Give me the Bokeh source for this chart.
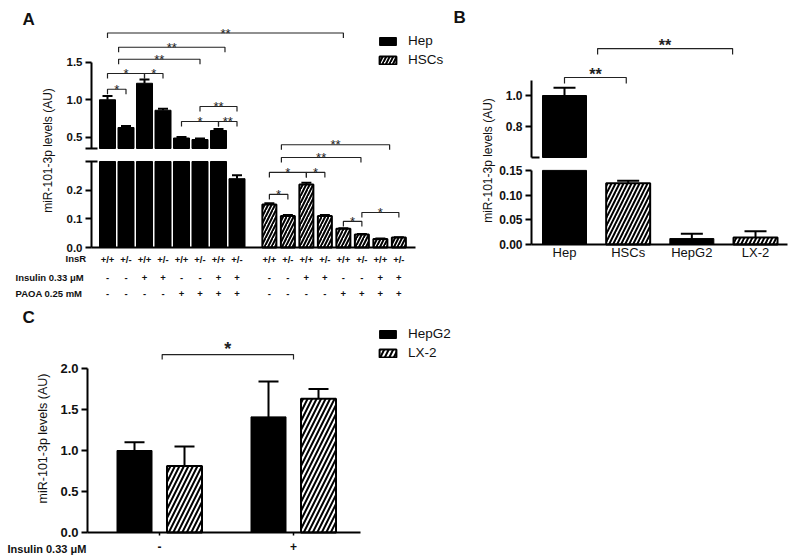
import math
from bokeh.plotting import figure
from bokeh.layouts import column, row
from bokeh.models import (Range1d, FixedTicker, Label, LabelSet, ColumnDataSource,
                          Legend, LegendItem, LinearAxis, PrintfTickFormatter)
from bokeh.embed import file_html
from bokeh.resources import INLINE
from bokeh.core.properties import value

FONT = "Liberation Sans"

# ---------------- Panel A data ----------------
a_insr = ["+/+", "+/-", "+/+", "+/-", "+/+", "+/-", "+/+", "+/-"]
a_insulin = ["-", "-", "+", "+", "-", "-", "+", "+"]
a_paoa = ["-", "-", "-", "-", "+", "+", "+", "+"]
a_hep = [1.00, 0.63, 1.22, 0.86, 0.49, 0.47, 0.59, 0.24]
a_hep_err = [0.05, 0.02, 0.05, 0.02, 0.012, 0.012, 0.02, 0.012]
a_hsc = [0.150, 0.110, 0.220, 0.110, 0.065, 0.045, 0.030, 0.035]
a_hsc_err = [0.004, 0.003, 0.006, 0.003, 0.002, 0.002, 0.001, 0.001]
a_row_titles = ["InsR", "Insulin  0.33 \u03bcM", "PAOA  0.25 mM"]
a_lower_ticks = [0.0, 0.1, 0.2]
a_upper_ticks = [0.5, 1.0, 1.5]
# significance brackets: (from x, to x, level, mark)
a_sig_upper = [
    (1.0, 13.75, 1.89, "**"),
    (1.6, 7.35, 1.70, "**"),
    (1.6, 6.0, 1.54, "**"),
    (1.0, 3.0, 1.35, "*"),
    (3.0, 4.0, 1.35, "*"),
    (1.0, 2.0, 1.14, "*"),
    (6.0, 8.0, 0.91, "**"),
    (5.0, 7.0, 0.71, "*"),
    (7.0, 8.0, 0.71, "**"),
    (10.4, 16.25, 0.40, "**"),
]
a_sig_lower = [
    (10.4, 14.7, 0.314, "**"),
    (9.75, 11.75, 0.262, "*"),
    (11.75, 12.75, 0.262, "*"),
    (9.75, 10.75, 0.185, "*"),
    (14.75, 16.75, 0.122, "*"),
    (13.75, 14.75, 0.091, "*"),
]

# ---------------- Panel B data ----------------
b_cats = ["Hep", "HSCs", "HepG2", "LX-2"]
b_kind = ["hep", "hsc", "hep", "hsc"]
b_vals = [1.00, 0.124, 0.012, 0.014]
b_err = [0.05, 0.005, 0.010, 0.013]
b_lower_ticks = [0.0, 0.05, 0.10, 0.15]
b_upper_ticks = [0.8, 1.0]
b_sig = [(0.0, 0.97, 1.116, "**"), (0.52, 2.64, 1.303, "**")]

# ---------------- Panel C data ----------------
c_groups = ["-", "+"]
c_hepg2 = [1.00, 1.41]
c_hepg2_err = [0.10, 0.43]
c_lx2 = [0.81, 1.63]
c_lx2_err = [0.24, 0.12]
c_ticks = [0.0, 0.5, 1.0, 1.5, 2.0]
c_sig = [(0.02, 1.0, 2.17, "*")]


class Box:
    """A figure whose frame fills it; positions given in page pixels."""
    def __init__(self, left, top, w, h):
        self.left, self.top, self.w, self.h = left, top, w, h

    def sx(self, X):
        return X - self.left

    def sy(self, Y):
        return self.top + self.h - Y

    def xr(self, X_anchor, v_anchor, ppu):
        start = v_anchor - (X_anchor - self.left) / ppu
        return Range1d(start, start + self.w / ppu)

    def yr(self, Y_anchor, v_anchor, ppu):
        start = v_anchor - (self.top + self.h - Y_anchor) / ppu
        return Range1d(start, start + self.h / ppu)


def new_fig(box, x_range, y_range):
    p = figure(width=box.w, height=box.h, x_range=x_range, y_range=y_range,
               output_backend="svg", toolbar_location=None, title=None,
               x_axis_location=None, y_axis_location=None,
               min_border_left=0, min_border_right=0, min_border_top=0, min_border_bottom=0)
    p.grid.visible = False
    p.outline_line_color = None
    p.background_fill_color = "white"
    p.border_fill_color = "white"
    return p


def add_y(p, at, ticks, bounds, size, fmt, range_name="default", minor=None, minor_in=6, minor_out=6):
    ax = LinearAxis(fixed_location=at, y_range_name=range_name)
    ax.ticker = FixedTicker(ticks=ticks, minor_ticks=minor or [])
    ax.formatter = PrintfTickFormatter(format=fmt)
    ax.bounds = bounds
    ax.axis_line_width = 2
    ax.axis_line_color = "black"
    ax.major_tick_line_width = 2
    ax.major_tick_in = 0
    ax.major_tick_out = 6
    ax.minor_tick_line_width = 2
    ax.minor_tick_in = minor_in
    ax.minor_tick_out = minor_out
    ax.major_label_text_font = FONT
    ax.major_label_text_font_style = "bold"
    ax.major_label_text_font_size = size
    ax.major_label_text_color = "#111111"
    ax.major_label_standoff = 3
    p.add_layout(ax, "left")


def add_x(p, at, ticks, labels, bounds, size, bold, standoff, tick_out=0):
    ax = LinearAxis(fixed_location=at)
    ax.ticker = FixedTicker(ticks=ticks)
    ax.major_label_overrides = {t: l for t, l in zip(ticks, labels)}
    ax.bounds = bounds
    ax.axis_line_width = 2
    ax.axis_line_color = "black"
    ax.major_tick_in = 0
    ax.major_tick_out = tick_out
    ax.major_tick_line_width = 1.5
    ax.minor_tick_in = 0
    ax.minor_tick_out = 0
    ax.major_label_text_font = FONT
    ax.major_label_text_font_style = "bold" if bold else "normal"
    ax.major_label_text_font_size = size
    ax.major_label_text_color = "#111111"
    ax.major_label_standoff = standoff
    p.add_layout(ax, "below")


def error_bars(p, xs, vals, errs, cap_half, range_name="default"):
    if not xs:
        return
    tops = [v + e for v, e in zip(vals, errs)]
    p.segment(x0=xs, y0=vals, x1=xs, y1=tops, line_color="black", line_width=2,
              y_range_name=range_name)
    p.segment(x0=[x - cap_half for x in xs], x1=[x + cap_half for x in xs], y0=tops, y1=tops,
              line_color="black", line_width=2, y_range_name=range_name)


def brackets(p, sigs, tick, lift, size, bold, range_name="default"):
    xs = [[a, a, b, b] for a, b, y, t in sigs]
    ys = [[y - tick, y, y, y - tick] for a, b, y, t in sigs]
    p.multi_line(xs=xs, ys=ys, line_color="#222222", line_width=1.2, y_range_name=range_name)
    p.text(x=[(a + b) / 2 for a, b, y, t in sigs], y=[y + lift for a, b, y, t in sigs],
           text=[t for a, b, y, t in sigs], text_font=value(FONT), text_font_size=size,
           text_font_style="bold" if bold else "normal", text_color="#222222",
           text_align="center", text_baseline="middle", y_range_name=range_name)


def text_label(p, box, X, Y, text, size, bold=False, align="left", baseline="middle", angle=0.0):
    p.add_layout(Label(x=box.sx(X), y=box.sy(Y), x_units="screen", y_units="screen", text=text,
                       text_font=FONT, text_font_size=size,
                       text_font_style="bold" if bold else "normal",
                       text_color="#111111", text_align=align, text_baseline=baseline,
                       angle=angle))


def legend(p, box, items, X, Y_bottom):
    lg = Legend(items=items, location=(box.sx(X), box.sy(Y_bottom)), orientation="vertical",
                border_line_color=None, background_fill_alpha=0, padding=0, margin=0, spacing=1,
                glyph_width=21, glyph_height=10, label_height=18, label_standoff=10,
                label_text_font=FONT, label_text_font_size="13.5px", label_text_color="#111111")
    p.add_layout(lg)


HATCH = dict(fill_color="white", line_color="black", line_width=2,
             hatch_pattern="/", hatch_color="black", hatch_weight=2)

# ================= Panel A =================
A = Box(0, 0, 448, 305)
A_SLOT = 18.5            # px per bar slot
A_LOW_PX = 286.7         # px per unit, lower segment
A_UP_PX = 75.0           # px per unit, upper segment
A_BREAK_LO, A_BREAK_HI, A_UP_TOP = 0.3, 0.35, 1.5
a_x_hep = [1 + i for i in range(8)]
a_x_hsc = [9.75 + i for i in range(8)]
pa = new_fig(A, A.xr(107, 1, A_SLOT), A.yr(247, 0.0, A_LOW_PX))
pa.extra_y_ranges = {"upper": A.yr(148, A_BREAK_HI, A_UP_PX)}
a_axis_x = 1 + (91 - 107) / A_SLOT
BW_A = 16 / A_SLOT

r_hep = pa.vbar(x=a_x_hep, bottom=0, top=[min(v, A_BREAK_LO) for v in a_hep], width=BW_A,
                fill_color="black", line_color="black", line_width=1)
up_idx = [i for i, v in enumerate(a_hep) if v > A_BREAK_HI]
pa.vbar(x=[a_x_hep[i] for i in up_idx], bottom=A_BREAK_HI, top=[a_hep[i] for i in up_idx],
        width=BW_A, fill_color="black", line_color="black", line_width=1, y_range_name="upper")
r_hsc = pa.vbar(x=a_x_hsc, bottom=0, top=[min(v, A_BREAK_LO) for v in a_hsc],
                width=BW_A - 2 / A_SLOT, hatch_scale=7, **HATCH)

cap_a = 5 / A_SLOT
error_bars(pa, [a_x_hep[i] for i in up_idx], [a_hep[i] for i in up_idx],
           [a_hep_err[i] for i in up_idx], cap_a, "upper")
lo_idx = [i for i, v in enumerate(a_hep) if v <= A_BREAK_LO]
error_bars(pa, [a_x_hep[i] for i in lo_idx], [a_hep[i] for i in lo_idx],
           [a_hep_err[i] for i in lo_idx], cap_a)
error_bars(pa, a_x_hsc, a_hsc, a_hsc_err, cap_a)

brackets(pa, a_sig_upper, 5 / A_UP_PX, 0, "13px", False, "upper")
brackets(pa, a_sig_lower, 5 / A_LOW_PX, 0, "13px", False)

add_y(pa, a_axis_x, a_lower_ticks, (0, A_BREAK_LO), "11.5px", "%.1f", minor=[A_BREAK_LO])
add_y(pa, a_axis_x, a_upper_ticks, (A_BREAK_HI, A_UP_TOP), "11.5px", "%.1f", "upper",
      minor=[A_BREAK_HI])
add_x(pa, 0.0, a_x_hep + a_x_hsc, a_insr * 2, (a_axis_x, 1 + (415 - 107) / A_SLOT),
      "9.5px", True, 6)

rows_src = ColumnDataSource(dict(x=a_x_hep + a_x_hsc, ins=a_insulin * 2, pao=a_paoa * 2))
for col, Y in (("ins", 277), ("pao", 293)):
    pa.add_layout(LabelSet(x="x", y=A.sy(Y), y_units="screen", text=col, source=rows_src,
                           text_font=value(FONT), text_font_size="9.5px", text_font_style="bold",
                           text_color="#111111", text_align="center", text_baseline="middle"))
text_label(pa, A, 65, 258, a_row_titles[0], "9.5px", bold=True)
text_label(pa, A, 15, 277, a_row_titles[1], "9.5px", bold=True)
text_label(pa, A, 15, 293, a_row_titles[2], "9.5px", bold=True)
text_label(pa, A, 47, 150, "miR-101-3p levels (AU)", "12px", align="center", angle=math.pi / 2)
text_label(pa, A, 22, 9, "A", "17px", bold=True, baseline="top")
legend(pa, A, [LegendItem(label="Hep", renderers=[r_hep]),
               LegendItem(label="HSCs", renderers=[r_hsc])], 377, 68.5)

# ================= Panel B =================
B = Box(448, 0, 340, 305)
B_SLOT = 63.67
B_LOW_PX = 494.0
B_UP_PX = 155.0
B_BREAK_LO, B_BREAK_HI, B_UP_TOP = 0.15, 0.6, 1.1
b_x = list(range(len(b_cats)))
pb = new_fig(B, B.xr(564, 0, B_SLOT), B.yr(244, 0.0, B_LOW_PX))
pb.extra_y_ranges = {"upper": B.yr(95, 1.0, B_UP_PX)}
b_axis_x = (531 - 564) / B_SLOT
BW_B = 44 / B_SLOT
for kind in ("hep", "hsc"):
    idx = [i for i, k in enumerate(b_kind) if k == kind]
    style = dict(fill_color="black", line_color="black", line_width=1) if kind == "hep" \
        else dict(hatch_scale=8, **HATCH)
    pb.vbar(x=[b_x[i] for i in idx], bottom=0, top=[min(b_vals[i], B_BREAK_LO) for i in idx],
            width=BW_B, **style)
    up = [i for i in idx if b_vals[i] > B_BREAK_HI]
    if up:
        pb.vbar(x=[b_x[i] for i in up], bottom=B_BREAK_HI, top=[b_vals[i] for i in up],
                width=BW_B, y_range_name="upper", **style)
cap_b = 11 / B_SLOT
bu = [i for i, v in enumerate(b_vals) if v > B_BREAK_HI]
bl = [i for i, v in enumerate(b_vals) if v <= B_BREAK_LO]
error_bars(pb, [b_x[i] for i in bu], [b_vals[i] for i in bu], [b_err[i] for i in bu], cap_b, "upper")
error_bars(pb, [b_x[i] for i in bl], [b_vals[i] for i in bl], [b_err[i] for i in bl], cap_b)
brackets(pb, b_sig, 6 / B_UP_PX, 3 / B_UP_PX, "16px", True, "upper")

add_y(pb, b_axis_x, b_lower_ticks, (0, B_BREAK_LO), "12px", "%.2f")
add_y(pb, b_axis_x, b_upper_ticks, (B_BREAK_HI, B_UP_TOP), "12px", "%.1f", "upper",
      minor=[B_BREAK_HI], minor_in=8, minor_out=0)
add_x(pb, 0.0, b_x, b_cats, (b_axis_x, (787 - 564) / B_SLOT), "13px", False, 0)
text_label(pb, B, 487, 160, "miR-101-3p levels (AU)", "12px", align="center", angle=math.pi / 2)
text_label(pb, B, 453, 7, "B", "17px", bold=True, baseline="top")

# ================= Panel C =================
C = Box(0, 305, 788, 251)
C_SLOT = 134.0
C_PX = 82.0
c_x = list(range(len(c_groups)))
c_off = 25 / C_SLOT
BW_C = 35 / C_SLOT
pc = new_fig(C, C.xr(159, 0, C_SLOT), C.yr(532, 0.0, C_PX))
c_axis_x = (87 - 159) / C_SLOT
x_hg = [x - c_off for x in c_x]
x_lx = [x + c_off for x in c_x]
r_hg = pc.vbar(x=x_hg, bottom=0, top=c_hepg2, width=BW_C, fill_color="black", line_color="black")
r_lx = pc.vbar(x=x_lx, bottom=0, top=c_lx2, width=BW_C, hatch_scale=9, **HATCH)
cap_c = 10 / C_SLOT
error_bars(pc, x_hg, c_hepg2, c_hepg2_err, cap_c)
error_bars(pc, x_lx, c_lx2, c_lx2_err, cap_c)
brackets(pc, c_sig, 5 / C_PX, 5.5 / C_PX, "18px", True)
add_y(pc, c_axis_x, c_ticks, (0, 2.0), "13px", "%.1f")
add_x(pc, 0.0, c_x, c_groups, (c_axis_x, (360 - 159) / C_SLOT), "12px", True, 6, tick_out=3)
text_label(pc, C, 7, 548, "Insulin 0.33 \u03bcM", "11px", bold=True)
text_label(pc, C, 42, 438, "miR-101-3p levels (AU)", "12.5px", align="center", angle=math.pi / 2)
text_label(pc, C, 22, 307, "C", "17px", bold=True, baseline="top")
legend(pc, C, [LegendItem(label="HepG2", renderers=[r_hg]),
               LegendItem(label="LX-2", renderers=[r_lx])], 377, 361.5)

layout = column(row(pa, pb), pc)
open("out.html", "w").write(file_html(layout, INLINE))
